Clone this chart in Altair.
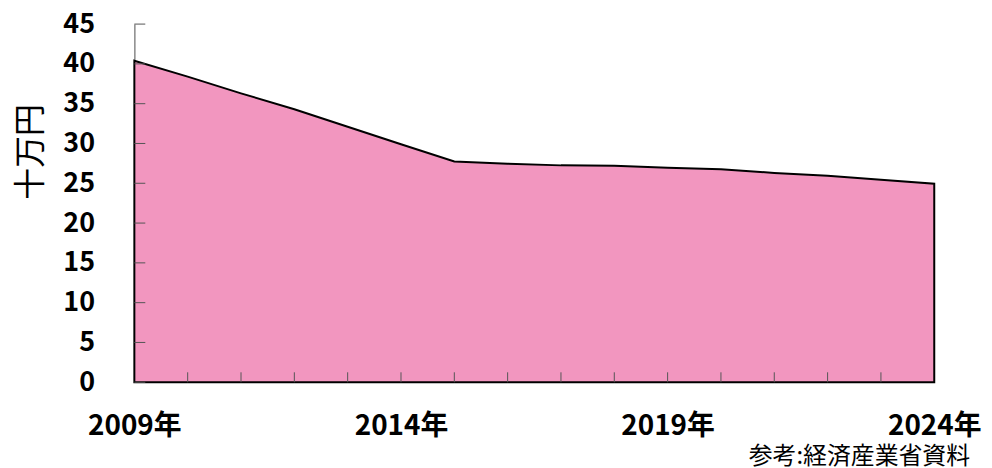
import altair as alt
import pandas as pd

years = list(range(2009, 2025))
values = [40.4, 38.4, 36.3, 34.3, 32.1, 29.9, 27.75, 27.45, 27.25, 27.2,
          26.95, 26.75, 26.3, 25.95, 25.45, 24.95]
x_label_years = [2009, 2014, 2019, 2024]
y_ticks = [0, 5, 10, 15, 20, 25, 30, 35, 40, 45]
y_title = "十万円"
source_note = "参考:経済産業省資料"

W, H = 804, 360
FONT = "Noto Sans CJK JP"

df = pd.DataFrame({"year": years, "value": values})
xscale = alt.Scale(domain=[2009, 2024], nice=False, zero=False)
yscale = alt.Scale(domain=[0, 45], nice=False)

xaxis = alt.Axis(values=x_label_years, labelExpr="datum.value + '年'",
                 ticks=False, domain=False, grid=False,
                 labelFont=FONT, labelFontSize=28, labelFontWeight="bold",
                 labelColor="black", labelPadding=31, title=None,
                 labelFlush=False, labelOverlap=False)
yaxis = alt.Axis(values=y_ticks, ticks=False, grid=False,
                 domainColor="#888888", domainWidth=1.5,
                 labelFont=FONT, labelFontSize=27, labelFontWeight="bold",
                 labelColor="black", labelPadding=40, labelOverlap=False,
                 title=y_title, titleFont=FONT, titleFontSize=32,
                 titleFontWeight="normal", titleColor="black",
                 titleAngle=-90, titleX=-104, titleY=128,
                 titleAlign="center", titleBaseline="middle")

area = alt.Chart(df).mark_area(
    color="#F296BF", stroke="black", strokeWidth=2, strokeJoin="miter"
).encode(
    x=alt.X("year:Q", scale=xscale, axis=xaxis),
    y=alt.Y("value:Q", scale=yscale, axis=yaxis),
)

ytick_df = pd.DataFrame({"value": y_ticks})
yticks = alt.Chart(ytick_df).mark_rule(color="#555555", strokeWidth=1).encode(
    y=alt.Y("value:Q", scale=yscale, axis=yaxis), x=alt.value(0), x2=alt.value(11)
)

xtick_df = pd.DataFrame({"year": years[1:-1]})
xticks = alt.Chart(xtick_df).mark_rule(color="#555555", strokeWidth=1).encode(
    x=alt.X("year:Q", scale=xscale, axis=xaxis), y=alt.value(H - 10), y2=alt.value(H)
)

note = alt.Chart(pd.DataFrame({"t": [source_note]})).mark_text(
    font=FONT, fontSize=24, align="right", baseline="middle", color="black"
).encode(text="t:N", x=alt.value(W + 36), y=alt.value(H + 75))

chart = alt.layer(area, xticks, yticks, note).properties(
    width=W, height=H,
    autosize=alt.AutoSizeParams(type="none"),
    padding={"left": 127, "top": 15, "right": 50, "bottom": 84},
).configure_view(stroke=None)

chart.save("out.html", embed_options={"renderer": "svg", "actions": False})
